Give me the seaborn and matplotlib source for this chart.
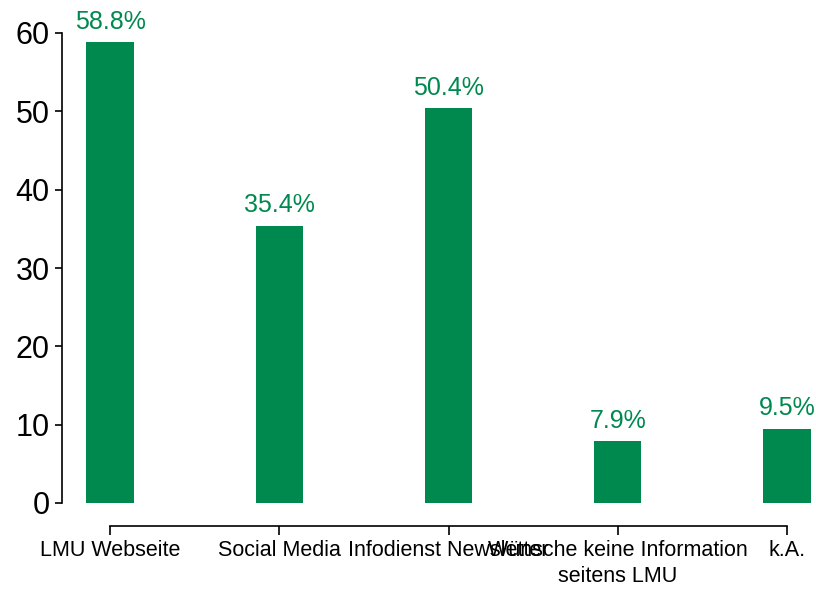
import matplotlib
matplotlib.use("Agg")
import matplotlib.pyplot as plt
import seaborn as sns
import pandas as pd

categories = ["LMU Webseite", "Social Media", "Infodienst Newsletter",
              "Wünsche keine Information\nseitens LMU", "k.A."]
values = [58.8, 35.4, 50.4, 7.9, 9.5]
yticks = [0, 10, 20, 30, 40, 50, 60]

green = "#00894F"

sns.set_style("white")
plt.rcParams['font.family'] = ['Liberation Sans', 'DejaVu Sans']

df = pd.DataFrame({"cat": categories, "val": values})

fig = plt.figure(figsize=(8.16, 5.9), dpi=100)
ax = fig.add_axes([62/816, 87/590, (811-62)/816, (503-33)/590])
sns.barplot(data=df, x="cat", y="val", color=green, saturation=1,
            width=0.28, ax=ax, edgecolor="none")

ax.set_xlim(-0.284, 4.142)
ax.set_ylim(0, 60)
ax.set_yticks(yticks)
ax.set_xlabel("")
ax.set_ylabel("")

for c in ax.containers:
    ax.bar_label(c, labels=[f"{v:.1f}%" for v in values], padding=6,
                 color=green, fontsize=18)

sns.despine(ax=ax, top=True, right=True)
ax.spines['left'].set_bounds(0, 60)
ax.spines['bottom'].set_position(('outward', 16.5))
ax.spines['bottom'].set_bounds(0, 4)
for s in ['left', 'bottom']:
    ax.spines[s].set_color('black')
    ax.spines[s].set_linewidth(1.2)

ax.tick_params(axis='y', direction='out', length=5, width=1.2, colors='black',
               labelsize=22, pad=4, left=True)
ax.tick_params(axis='x', direction='out', length=6.5, width=1.2, colors='black',
               labelsize=15.5, pad=3.5, bottom=True)
for lbl in ax.get_xticklabels():
    lbl.set_linespacing(1.35)
ax.grid(False)

fig.savefig("out.png", dpi=100)
